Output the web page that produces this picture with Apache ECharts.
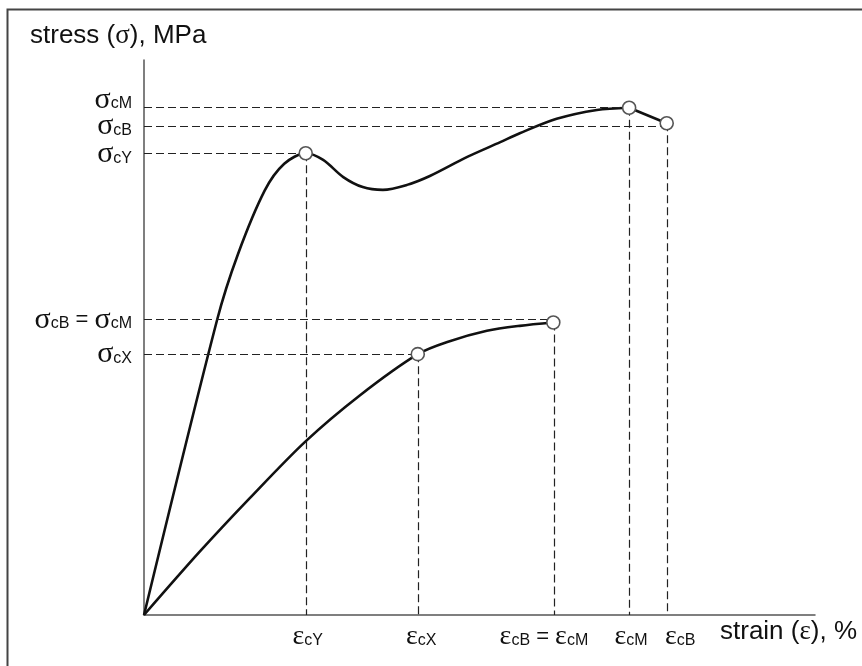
<!DOCTYPE html>
<html>
<head>
<meta charset="utf-8">
<script src="https://cdn.jsdelivr.net/npm/echarts@6.0.0/dist/echarts.min.js"></script>
<style>html,body{margin:0;padding:0;background:#fff}#c{width:862px;height:666px}</style>
</head>
<body>
<div id="c"></div>
<script>
// Upper curve (material with yield point), strain %, stress (relative units)
const upperStrain = [0, 10.9, 14.0, 18.0, 20.9, 24.1, 26.7, 29.7, 32.6, 35.6, 39.2, 42.6, 48.1, 53.1, 56.0, 61.5, 67.5, 72.3];
const upperStress = [0, 53.2, 65.0, 76.5, 81.3, 83.2, 82.0, 78.9, 77.1, 76.6, 77.5, 79.1, 82.5, 85.2, 86.8, 89.4, 91.0, 91.4];
// Falling tail from maximum to break
const tailStrain = [72.3, 77.9];
const tailStress = [91.4, 88.6];
// Lower curve (no yield point)
const lowerStrain = [0, 8.3, 15.8, 24.0, 32.2, 40.8, 45.2, 51.1, 56.0, 61.0];
const lowerStress = [0, 11.4, 21.1, 31.2, 39.6, 47.0, 49.2, 51.2, 52.1, 52.7];
// Marked points: Y, M, B (upper), X, B=M (lower)
const pointStrain = [24.1, 72.3, 77.9, 40.8, 61.0];
const pointStress = [83.2, 91.4, 88.6, 47.0, 52.7];
// Horizontal guide levels and where they end
const hGuideLevel = [91.4, 88.0, 83.2, 53.2, 47.0];
const hGuideEnd = [72.3, 77.9, 24.1, 61.0, 40.8];
// Vertical guides: strain and start stress
const vGuideStrain = [24.2, 40.9, 61.1, 72.3, 78.0];
const vGuideTop = [83.2, 47.0, 52.7, 91.4, 88.6];
// Tick labels (two interleaved sets so close labels all stay visible)
const yTickPosA = [92.8, 83.0, 47.0];
const yTickLabelsA = ['{g|σ}{s|cM}', '{g|σ}{s|cY}', '{g|σ}{s|cX}'];
const yTickPosB = [88.0, 53.2];
const yTickLabelsB = ['{g|σ}{s|cB}', '{g|σ}{s|cB}{t| = }{g|σ}{s|cM}'];
const xTickPos = [24.4, 41.3, 59.6, 72.6, 79.9];
const xTickLabels = ['{e|ε}{s|cY}', '{e|ε}{s|cX}', '{e|ε}{s|cB}{t| = }{e|ε}{s|cM}', '{e|ε}{s|cM}', '{e|ε}{s|cB}'];

const zip = (a, b) => a.map((v, i) => [v, b[i]]);
const SANS = '"Liberation Sans", Arial, sans-serif';
const SERIF = '"Liberation Serif", "DejaVu Serif", serif';
const rich = {
  g: { fontFamily: SERIF, fontSize: 30, color: '#111', lineHeight: 18, fontWeight: 'normal' },
  e: { fontFamily: SERIF, fontSize: 28, color: '#111', lineHeight: 18, fontWeight: 'normal' },
  s: { fontFamily: SANS, fontSize: 16, color: '#111', lineHeight: 10, padding: [8, 0, 0, 0], fontWeight: 'normal' },
  t: { fontFamily: SANS, fontSize: 22, color: '#111', lineHeight: 18, fontWeight: 'normal' },
  a: { fontFamily: SANS, fontSize: 26, color: '#111', lineHeight: 30, fontWeight: 'normal' },
  ga: { fontFamily: SERIF, fontSize: 27, color: '#111', lineHeight: 30, fontWeight: 'normal' }
};
function pick(vals, labels, v) {
  let best = 0;
  vals.forEach((p, i) => { if (Math.abs(p - v) < Math.abs(vals[best] - v)) best = i; });
  return labels[best];
}
const chart = echarts.init(document.getElementById('c'), null, { renderer: 'canvas' });
const guideStyle = { color: '#222', width: 1.2, type: [8, 4] };
function yAx(pos, labels, showLine) {
  return {
    type: 'value', min: 0, max: 100, position: 'left', offset: 0,
    axisLine: { show: showLine, lineStyle: { color: '#555', width: 1.5 } },
    axisTick: { show: false }, splitLine: { show: false },
    axisLabel: {
      customValues: pos, margin: 12, hideOverlap: false, showMinLabel: true, showMaxLabel: true,
      formatter: v => pick(pos, labels, v), rich: rich
    }
  };
}
chart.setOption({
  animation: false,
  backgroundColor: '#fff',
  graphic: [{
    type: 'rect', shape: { x: 7.5, y: 9.5, width: 900, height: 700 },
    style: { fill: 'none', stroke: '#444', lineWidth: 2 }, silent: true, z: 0
  }],
  title: [
    { text: '{a|stress (}{ga|σ}{a|), MPa}', left: 25, top: 16, textStyle: { rich: rich, fontWeight: 'normal' } },
    { text: '{a|strain (}{ga|ε}{a|), %}', left: 715, top: 612, textStyle: { rich: rich, fontWeight: 'normal' } }
  ],
  grid: { left: 144, right: 47, top: 60, bottom: 51 },
  xAxis: {
    type: 'value', min: 0, max: 100,
    axisLine: { show: true, lineStyle: { color: '#555', width: 1.5 } },
    axisTick: { show: false }, splitLine: { show: false },
    axisLabel: {
      customValues: xTickPos, margin: 13, hideOverlap: false, showMinLabel: true, showMaxLabel: true,
      formatter: v => pick(xTickPos, xTickLabels, v), rich: rich
    }
  },
  yAxis: [yAx(yTickPosA, yTickLabelsA, true), yAx(yTickPosB, yTickLabelsB, false)],
  series: [
    {
      type: 'line', data: [], silent: true, z: 1,
      markLine: {
        symbol: 'none', silent: true, label: { show: false }, lineStyle: guideStyle,
        animation: false,
        data: hGuideLevel.map((l, i) => [{ coord: [0, l] }, { coord: [hGuideEnd[i], l] }])
          .concat(vGuideStrain.map((x, i) => [{ coord: [x, vGuideTop[i]] }, { coord: [x, 0] }]))
      }
    },
    {
      type: 'line', data: zip(upperStrain, upperStress), smooth: 0.3, showSymbol: false, z: 3,
      lineStyle: { color: '#111', width: 2.6 }
    },
    {
      type: 'line', data: zip(tailStrain, tailStress), showSymbol: false, z: 3,
      lineStyle: { color: '#111', width: 2.6 }
    },
    {
      type: 'line', data: zip(lowerStrain, lowerStress), smooth: 0.3, showSymbol: false, z: 3,
      lineStyle: { color: '#111', width: 2.6 }
    },
    {
      type: 'scatter', data: zip(pointStrain, pointStress), symbol: 'circle', symbolSize: 13, z: 5,
      itemStyle: { color: '#fff', borderColor: '#555', borderWidth: 1.6, opacity: 1 }
    }
  ]
});
</script>
</body>
</html>
